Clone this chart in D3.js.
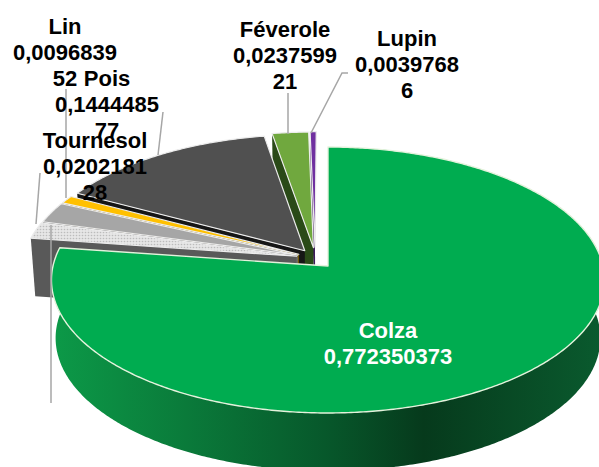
<!DOCTYPE html>
<html>
<head>
<meta charset="utf-8">
<script src="https://cdn.jsdelivr.net/npm/d3@7/dist/d3.min.js"></script>
<style>
  html, body { margin: 0; padding: 0; background: #fff; }
  svg { display: block; }
  text { font-family: "Liberation Sans", Arial, sans-serif; font-weight: bold; font-size: 22px; }
</style>
</head>
<body>
<script>
// slices, clockwise from 12 o'clock
var categories = ['Colza', 'Tournesol', '', 'Lin', 'Pois', 'Féverole', 'Lupin'];
var values = [0.772350373, 0.020218128, 0.0253, 0.009683952, 0.144448577, 0.023759921, 0.00397686];
var valueLines = [
  ['0,772350373'],
  ['0,0202181', '28'],
  [],
  ['0,0096839', '52'],
  ['0,1444485', '77'],
  ['0,0237599', '21'],
  ['0,0039768', '6']
];
var topColors = ['#00ac50', 'url(#dotted)', '#a6a6a6', '#ffc000', '#505050', '#70a83e', '#7030a0'];
var wallColors = ['#0a5a2e', '#595959', '#6e6e6e', '#7f6000', '#161616', '#2a4a18', '#3c1a5a'];

var width = 599;
var height = 467;
var depth = 58;
var centerX = 328;
var tilt = 0.1053;     // perspective, far edge of the disc is smaller
var shrink = 0.985;    // lower rim is a little narrower

// pie disc space (-1..1) to pixels
var xScale = d3.scaleLinear().domain([-1, 1]).range([centerX - 275, centerX + 275]);
var yScale = d3.scaleLinear().domain([-1, 1]).range([397.5, 134.5]);

function project(u, v) {
  var w = 1 + tilt * v;
  return [xScale(u / w), yScale(v / w)];
}

function rimPoints(a0, a1, du, dv) {
  var steps = Math.max(2, Math.ceil((a1 - a0) / 0.01));
  return d3.range(steps + 1).map(function(i) {
    var a = a0 + (a1 - a0) * i / steps;
    return project(Math.sin(a) + du, Math.cos(a) + dv);
  });
}

function drop(p) {
  return [centerX + (p[0] - centerX) * shrink, p[1] + depth];
}

var line = d3.line();

var svg = d3.select('body').append('svg')
  .attr('width', width)
  .attr('height', height);

var defs = svg.append('defs');

var dotted = defs.append('pattern')
  .attr('id', 'dotted')
  .attr('width', 3)
  .attr('height', 3)
  .attr('patternUnits', 'userSpaceOnUse');
dotted.append('rect').attr('width', 3).attr('height', 3).attr('fill', '#e6e6e6');
dotted.append('circle').attr('cx', 1.5).attr('cy', 1.5).attr('r', 0.8).attr('fill', '#bcbcbc');

var sideGradient = defs.append('linearGradient')
  .attr('id', 'colza-side')
  .attr('gradientUnits', 'userSpaceOnUse')
  .attr('x1', 50).attr('x2', 600)
  .attr('y1', 0).attr('y2', 0);
[[0, '#0c9a48'], [0.25, '#0a7a3a'], [0.5, '#07582b'], [0.68, '#063a1c'], [1, '#0a5a2e']].forEach(function(s) {
  sideGradient.append('stop').attr('offset', s[0]).attr('stop-color', s[1]);
});

var arcs = d3.pie().sort(null).value(function(d) { return d; })(values);
arcs.forEach(function(d, i) { d.index = i; });

// back slices first, colza goes on top of the pulled out ones
arcs.slice().reverse().forEach(function(d) {
  var du = 0;
  var dv = 0;
  if (d.index > 0) {
    var mid = (d.startAngle + d.endAngle) / 2;
    var dir = mid / 2 + 162 * Math.PI / 180;
    var pull = 0.135 + 0.07 * (mid / (2 * Math.PI) - 0.75);
    du = pull * Math.sin(dir);
    dv = pull * Math.cos(dir);
  }
  var apex = project(du, dv);
  var rim = rimPoints(d.startAngle, d.endAngle, du, dv);

  if (d.index === 0) {
    var side = rimPoints(1, d.endAngle, 0, 0);
    svg.append('path')
      .attr('d', line(side.concat(side.map(drop).reverse())) + 'Z')
      .attr('fill', 'url(#colza-side)');
  } else {
    // the cut face that looks towards the viewer
    svg.append('path')
      .attr('d', line([rim[0], apex, drop(apex), drop(rim[0])]) + 'Z')
      .attr('fill', wallColors[d.index]);
  }

  svg.append('path')
    .attr('class', 'slice')
    .attr('d', line([apex].concat(rim)) + 'Z')
    .attr('fill', topColors[d.index])
    .attr('stroke', d.index === 0 ? '#e4f2dc' : '#ececec')
    .attr('stroke-width', d.index === 0 ? 1.4 : 1.2)
    .attr('stroke-linejoin', 'round');
});

svg.append('g').attr('class', 'leaders')
  .selectAll('path')
  .data([
    [[348, 73], [342, 73], [311, 133]],
    [[288, 93], [288, 134]],
    [[163, 112], [158, 155]],
    [[66, 89], [66, 198]],
    [[40, 173], [36, 224]],
    [[51, 225], [51, 403]]
  ])
  .enter().append('path')
    .attr('d', line)
    .attr('fill', 'none')
    .attr('stroke', '#a6a6a6')
    .attr('stroke-width', 1.5);

var labelSpots = [
  {x: 388, y: 338, fill: '#fff'},
  {x: 95, y: 148, fill: '#000'},
  null,
  {x: 65, y: 34, fill: '#000'},
  {x: 107, y: 86, fill: '#000'},
  {x: 285, y: 37, fill: '#000'},
  {x: 407, y: 46, fill: '#000'}
];

categories.forEach(function(name, i) {
  var spot = labelSpots[i];
  if (!spot) {
    return;
  }
  var label = svg.append('text')
    .attr('text-anchor', 'middle')
    .attr('fill', spot.fill);
  [name].concat(valueLines[i]).forEach(function(txt, n) {
    label.append('tspan')
      .attr('x', spot.x)
      .attr('y', spot.y + n * 26)
      .text(txt);
  });
});
</script>
</body>
</html>
